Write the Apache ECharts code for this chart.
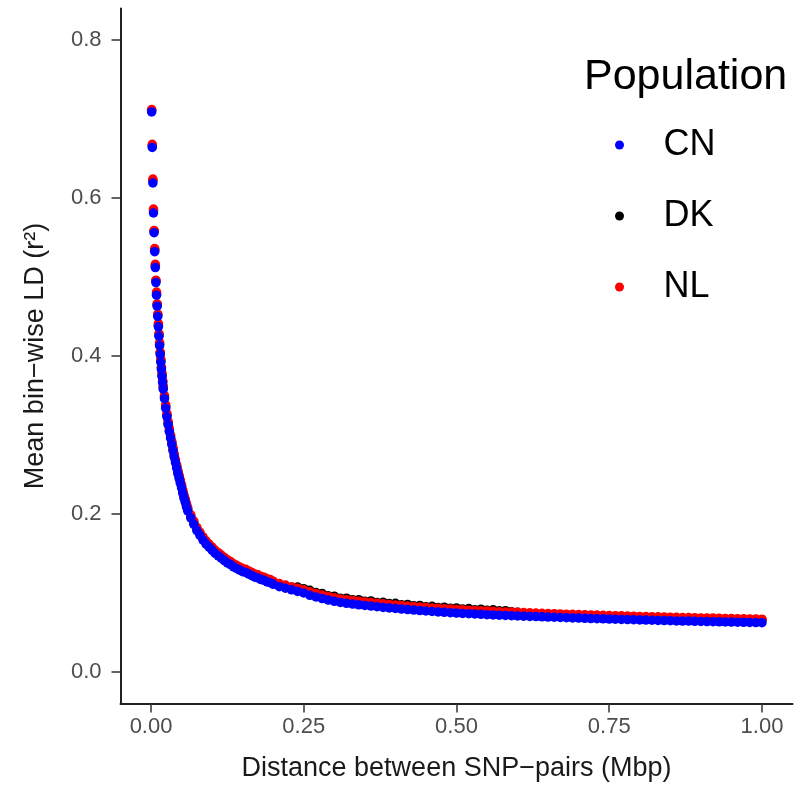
<!DOCTYPE html>
<meta charset="utf-8">
<style>
html, body { margin: 0; padding: 0; background: #fff; }
#main { width: 796px; height: 787px; }
</style>
<div id="main"></div>
<script src="https://cdn.jsdelivr.net/npm/echarts@6/dist/echarts.min.js"></script>
<script>
// bin distances (Mbp)
var distances = [
    0.001, 0.002, 0.003, 0.004, 0.005, 0.006, 0.007, 0.008, 0.009, 0.010,
    0.011, 0.012, 0.013, 0.014, 0.015, 0.016, 0.017, 0.018, 0.019, 0.020,
    0.022, 0.024, 0.026, 0.028, 0.030, 0.032, 0.034, 0.036, 0.038, 0.040,
    0.042, 0.044, 0.046, 0.048, 0.050, 0.052, 0.054, 0.056, 0.058, 0.060,
    0.065, 0.070, 0.075, 0.080, 0.085, 0.090, 0.095, 0.100, 0.105, 0.110,
    0.115, 0.120, 0.125, 0.130, 0.135, 0.140, 0.145, 0.150, 0.155, 0.160,
    0.165, 0.170, 0.175, 0.180, 0.185, 0.190, 0.195, 0.200,
    0.21, 0.22, 0.23, 0.24, 0.25, 0.26, 0.27, 0.28, 0.29, 0.30,
    0.31, 0.32, 0.33, 0.34, 0.35, 0.36, 0.37, 0.38, 0.39, 0.40,
    0.41, 0.42, 0.43, 0.44, 0.45, 0.46, 0.47, 0.48, 0.49, 0.50,
    0.51, 0.52, 0.53, 0.54, 0.55, 0.56, 0.57, 0.58, 0.59, 0.60,
    0.61, 0.62, 0.63, 0.64, 0.65, 0.66, 0.67, 0.68, 0.69, 0.70,
    0.71, 0.72, 0.73, 0.74, 0.75, 0.76, 0.77, 0.78, 0.79, 0.80,
    0.81, 0.82, 0.83, 0.84, 0.85, 0.86, 0.87, 0.88, 0.89, 0.90,
    0.91, 0.92, 0.93, 0.94, 0.95, 0.96, 0.97, 0.98, 0.99, 1.00
];

// mean r2 per bin
var ldCN = [
    0.709, 0.664, 0.619, 0.581, 0.556, 0.532, 0.512, 0.493, 0.477, 0.463,
    0.450, 0.437, 0.425, 0.413, 0.402, 0.392, 0.383, 0.374, 0.366, 0.358,
    0.346, 0.334, 0.323, 0.313, 0.304, 0.296, 0.288, 0.280, 0.272, 0.265,
    0.258, 0.251, 0.245, 0.239, 0.233, 0.226, 0.220, 0.215, 0.209, 0.204,
    0.195, 0.187, 0.179, 0.173, 0.167, 0.162, 0.158, 0.154, 0.150, 0.147,
    0.144, 0.141, 0.138, 0.136, 0.133, 0.131, 0.129, 0.127, 0.126, 0.124,
    0.122, 0.120, 0.119, 0.117, 0.116, 0.114, 0.113, 0.111,
    0.108, 0.106, 0.104, 0.102, 0.100, 0.097, 0.095, 0.093, 0.091, 0.0895,
    0.088, 0.087, 0.086, 0.085, 0.0842, 0.0834, 0.0826, 0.0818, 0.0811, 0.0804,
    0.0797, 0.0790, 0.0784, 0.0778, 0.0772, 0.0766, 0.0761, 0.0756, 0.0751, 0.0746,
    0.0742, 0.0738, 0.0734, 0.0730, 0.0726, 0.0723, 0.0719, 0.0716, 0.0713, 0.0710,
    0.0707, 0.0704, 0.0701, 0.0698, 0.0695, 0.0693, 0.0690, 0.0687, 0.0685, 0.0682,
    0.0680, 0.0677, 0.0675, 0.0673, 0.0670, 0.0668, 0.0666, 0.0664, 0.0662, 0.0659,
    0.0657, 0.0655, 0.0653, 0.0651, 0.0649, 0.0647, 0.0645, 0.0644, 0.0642, 0.0640,
    0.0638, 0.0637, 0.0635, 0.0633, 0.0632, 0.0630, 0.0629, 0.0627, 0.0626, 0.0624
];

var ldDK = [
    0.711, 0.666, 0.622, 0.584, 0.558, 0.534, 0.514, 0.495, 0.479, 0.465,
    0.452, 0.439, 0.427, 0.415, 0.404, 0.394, 0.385, 0.376, 0.368, 0.360,
    0.348, 0.336, 0.325, 0.315, 0.306, 0.298, 0.290, 0.282, 0.274, 0.267,
    0.260, 0.253, 0.247, 0.241, 0.235, 0.228, 0.222, 0.217, 0.211, 0.206,
    0.197, 0.189, 0.181, 0.175, 0.169, 0.164, 0.160, 0.156, 0.152, 0.149,
    0.146, 0.143, 0.140, 0.138, 0.135, 0.133, 0.131, 0.129, 0.128, 0.126,
    0.124, 0.122, 0.121, 0.119, 0.118, 0.116, 0.115, 0.113,
    0.110, 0.108, 0.106, 0.1075, 0.1055, 0.1035, 0.1005, 0.0995, 0.0965, 0.0960,
    0.0935, 0.0935, 0.0915, 0.0915, 0.0897, 0.0899, 0.0881, 0.0883, 0.0866, 0.0869,
    0.0852, 0.0855, 0.0839, 0.0843, 0.0827, 0.0831, 0.0816, 0.0821, 0.0806, 0.0811,
    0.0797, 0.0803, 0.0789, 0.0795, 0.0781, 0.0788, 0.0774, 0.0776, 0.0763, 0.0755,
    0.0742, 0.0739, 0.0736, 0.0733, 0.0730, 0.0728, 0.0725, 0.0722, 0.0720, 0.0717,
    0.0715, 0.0712, 0.0710, 0.0708, 0.0705, 0.0703, 0.0701, 0.0699, 0.0697, 0.0694,
    0.0692, 0.0690, 0.0688, 0.0686, 0.0684, 0.0682, 0.0680, 0.0679, 0.0677, 0.0675,
    0.0673, 0.0672, 0.0670, 0.0668, 0.0667, 0.0665, 0.0664, 0.0662, 0.0661, 0.0659
];

var ldNL = [
    0.712, 0.668, 0.624, 0.586, 0.559, 0.536, 0.516, 0.496, 0.481, 0.466,
    0.453, 0.441, 0.428, 0.417, 0.405, 0.396, 0.386, 0.378, 0.369, 0.362,
    0.350, 0.338, 0.327, 0.317, 0.308, 0.300, 0.292, 0.284, 0.276, 0.269,
    0.262, 0.255, 0.249, 0.243, 0.237, 0.230, 0.224, 0.219, 0.213, 0.208,
    0.199, 0.191, 0.183, 0.177, 0.171, 0.166, 0.162, 0.158, 0.154, 0.151,
    0.148, 0.145, 0.142, 0.140, 0.137, 0.135, 0.133, 0.131, 0.130, 0.128,
    0.126, 0.124, 0.123, 0.121, 0.120, 0.118, 0.117, 0.115,
    0.112, 0.110, 0.108, 0.106, 0.104, 0.1015, 0.0995, 0.0975, 0.0955, 0.0940,
    0.0925, 0.0915, 0.0905, 0.0895, 0.0887, 0.0879, 0.0871, 0.0863, 0.0856, 0.0849,
    0.0842, 0.0835, 0.0829, 0.0823, 0.0817, 0.0811, 0.0806, 0.0801, 0.0796, 0.0791,
    0.0787, 0.0783, 0.0779, 0.0775, 0.0771, 0.0768, 0.0764, 0.0761, 0.0758, 0.0755,
    0.0752, 0.0749, 0.0746, 0.0743, 0.0740, 0.0738, 0.0735, 0.0732, 0.0730, 0.0727,
    0.0725, 0.0722, 0.0720, 0.0718, 0.0715, 0.0713, 0.0711, 0.0709, 0.0707, 0.0704,
    0.0702, 0.0700, 0.0698, 0.0696, 0.0694, 0.0692, 0.0690, 0.0689, 0.0687, 0.0685,
    0.0683, 0.0682, 0.0680, 0.0678, 0.0677, 0.0675, 0.0674, 0.0672, 0.0671, 0.0669
];

var populations = ['CN', 'DK', 'NL'];
var xTicks = [0, 0.25, 0.5, 0.75, 1];
var yTicks = [0, 0.2, 0.4, 0.6, 0.8];

var FONT = '"Liberation Sans", Arial, sans-serif';

function pairs(ys) {
    return distances.map(function (d, i) { return [d, ys[i]]; });
}

function dots(name, color, ys) {
    return {
        name: name,
        type: 'scatter',
        symbol: 'circle',
        symbolSize: 9.5,
        itemStyle: { color: color, opacity: 1 },
        emphasis: { disabled: true },
        data: pairs(ys)
    };
}

var chart = echarts.init(document.getElementById('main'));

chart.setOption({
    animation: false,
    textStyle: { fontFamily: FONT },
    title: {
        text: 'Population',
        left: 584,
        top: 55,
        padding: 0,
        textStyle: { fontFamily: FONT, fontSize: 43, fontWeight: 'normal', color: '#000', lineHeight: 44 }
    },
    legend: {
        data: populations,
        orient: 'vertical',
        left: 615,
        top: 125,
        padding: 0,
        icon: 'circle',
        itemWidth: 78,
        itemHeight: 9,
        itemGap: 31,
        selectedMode: false,
        textStyle: { fontFamily: FONT, fontSize: 36, color: '#000', lineHeight: 40 }
    },
    grid: { left: 120.5, right: 3.5, top: 8.4, bottom: 83.4, outerBoundsMode: 'none' },
    xAxis: {
        type: 'value',
        min: -0.05,
        max: 1.05,
        name: 'Distance between SNP\u2212pairs (Mbp)',
        nameLocation: 'middle',
        nameGap: 51,
        nameTextStyle: { fontFamily: FONT, fontSize: 27, color: '#1a1a1a' },
        axisLine: { onZero: false, lineStyle: { color: '#222', width: 2 } },
        axisTick: { show: true, customValues: xTicks, length: 9, lineStyle: { color: '#333', width: 1.5 } },
        axisLabel: {
            customValues: xTicks,
            margin: 12,
            fontSize: 22,
            color: '#4d4d4d',
            fontFamily: FONT,
            formatter: function (v) { return v.toFixed(2); }
        },
        splitLine: { show: false }
    },
    yAxis: {
        type: 'value',
        min: -0.04,
        max: 0.84,
        name: 'Mean bin\u2212wise LD (r\u00B2)',
        nameLocation: 'middle',
        nameGap: 71,
        nameRotate: 90,
        nameTextStyle: { fontFamily: FONT, fontSize: 27, color: '#1a1a1a' },
        axisLine: { onZero: false, lineStyle: { color: '#222', width: 2 } },
        axisTick: { show: true, customValues: yTicks, length: 9, lineStyle: { color: '#333', width: 1.5 } },
        axisLabel: {
            customValues: yTicks,
            margin: 19,
            fontSize: 22,
            color: '#4d4d4d',
            fontFamily: FONT,
            formatter: function (v) { return v.toFixed(1); }
        },
        splitLine: { show: false }
    },
    // DK under NL, CN drawn on top
    series: [
        dots('DK', '#000000', ldDK),
        dots('NL', '#ff0000', ldNL),
        dots('CN', '#0000ff', ldCN)
    ]
});
</script>
